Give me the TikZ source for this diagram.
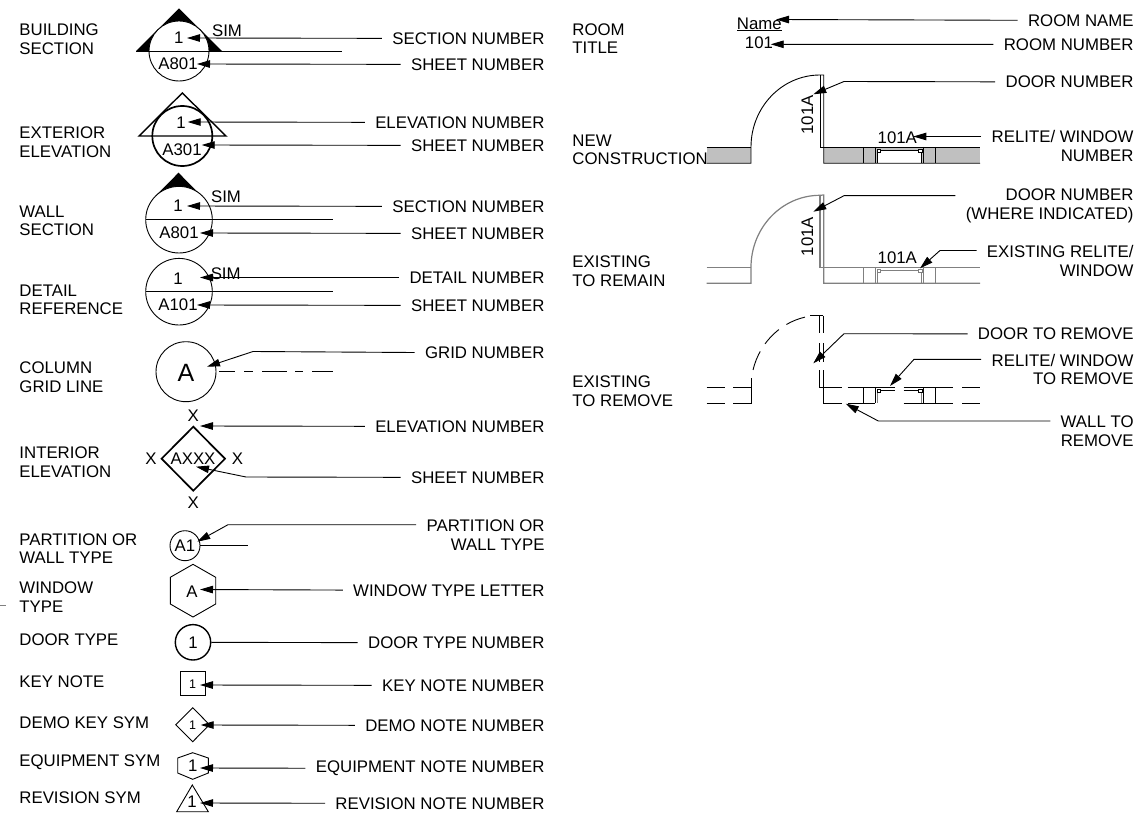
\documentclass[tikz,border=0pt]{standalone}
\usepackage{fontspec}
\setmainfont{Liberation Sans}
\usetikzlibrary{arrows.meta}
\definecolor{wallfill}{HTML}{C0C0C0}
\definecolor{wallgray}{HTML}{808080}
\begin{document}
\begin{tikzpicture}[x=1pt,y=-1pt,
        line width=0.9pt,
        every node/.style={inner sep=0pt,font=\fontsize{16.8}{18.6}\selectfont},
        txtleft/.style={anchor=west,align=left},
        txtright/.style={anchor=east,align=right,inner xsep=10pt},
        small/.style={font=\fontsize{12.5}{14}\selectfont},
        leader/.style={-{Triangle[length=13pt,width=7.5pt]},line width=0.9pt},
        heavy/.style={line width=1.7pt}
    ]
    \useasboundingbox [fill=white] ( 0, 0 ) rectangle ( 1137, 813 );

    % left titles
    \node [txtleft] (bsTitle) at ( 19, 39 ) {BUILDING\\SECTION};
    \node [txtleft] (exTitle) at ( 19, 142 ) {EXTERIOR\\ELEVATION};
    \node [txtleft] (wsTitle) at ( 19, 221 ) {WALL\\SECTION};
    \node [txtleft] (drTitle) at ( 19, 300 ) {DETAIL\\REFERENCE};
    \node [txtleft] (cgTitle) at ( 19, 377.5 ) {COLUMN\\GRID LINE};
    \node [txtleft] (ieTitle) at ( 19, 462.5 ) {INTERIOR\\ELEVATION};
    \node [txtleft] (ptTitle) at ( 19, 548.5 ) {PARTITION OR\\WALL TYPE};
    \node [txtleft] (wtTitle) at ( 19, 597 ) {WINDOW\\TYPE};
    \node [txtleft] (dtTitle) at ( 19, 639.5 ) {DOOR TYPE};
    \node [txtleft] (knTitle) at ( 19, 681.5 ) {KEY NOTE};
    \node [txtleft] (dkTitle) at ( 19, 722.5 ) {DEMO KEY SYM};
    \node [txtleft] (eqTitle) at ( 19, 762.5 ) {EQUIPMENT SYM};
    \node [txtleft] (rvTitle) at ( 19, 797.5 ) {REVISION SYM};
    \draw [wallgray] ( 0, 605 ) -- ( 6, 605 );

    % left labels
    \node [txtright] (bsNum) at ( 555, 38.5 ) {SECTION NUMBER};
    \node [txtright] (bsSheet) at ( 555, 64.5 ) {SHEET NUMBER};
    \node [txtright] (exNum) at ( 555, 122.5 ) {ELEVATION NUMBER};
    \node [txtright] (exSheet) at ( 555, 145.5 ) {SHEET NUMBER};
    \node [txtright] (wsNum) at ( 555, 206.5 ) {SECTION NUMBER};
    \node [txtright] (wsSheet) at ( 555, 233.5 ) {SHEET NUMBER};
    \node [txtright] (drNum) at ( 555, 277.5 ) {DETAIL NUMBER};
    \node [txtright] (drSheet) at ( 555, 305.5 ) {SHEET NUMBER};
    \node [txtright] (cgNum) at ( 555, 352.5 ) {GRID NUMBER};
    \node [txtright] (ieNum) at ( 555, 426.5 ) {ELEVATION NUMBER};
    \node [txtright] (ieSheet) at ( 555, 477.5 ) {SHEET NUMBER};
    \node [txtright] (ptNum) at ( 555, 535 ) {PARTITION OR\\WALL TYPE};
    \node [txtright] (wtNum) at ( 555, 590.5 ) {WINDOW TYPE LETTER};
    \node [txtright] (dtNum) at ( 555, 642.8 ) {DOOR TYPE NUMBER};
    \node [txtright] (knNum) at ( 555, 685.5 ) {KEY NOTE NUMBER};
    \node [txtright] (dkNum) at ( 555, 725.5 ) {DEMO NOTE NUMBER};
    \node [txtright] (eqNum) at ( 555, 768.5 ) {EQUIPMENT NOTE NUMBER};
    \node [txtright] (rvNum) at ( 555, 803.5 ) {REVISION NOTE NUMBER};

    % building section
    \fill ( 179, 8.5 ) -- ( 222, 51 ) -- ( 136, 51 ) -- cycle;
    \draw [fill=white] ( 179, 51 ) circle [ radius = 30 ];
    \draw ( 136, 51 ) -- ( 342, 51 );
    \node (bsOne) at ( 178.7, 38 ) {1};
    \node (bsSim) at ( 227, 31 ) {SIM};
    \node (bsSht) at ( 178, 63.5 ) {A801};
    \coordinate (bsTip) at ( 187, 38 );
    \coordinate (bsShtTip) at ( 197, 64 );
    \draw [leader] (bsNum) -- (bsTip);
    \draw [leader] (bsSheet) -- (bsShtTip);

    % exterior elevation
    \draw [line width=1.4pt] ( 182.3, 93 ) -- ( 226, 136 ) -- ( 139, 136 ) -- cycle;
    \draw [heavy] ( 182.3, 136 ) circle [ radius = 30 ];
    \node (exOne) at ( 181, 122.5 ) {1};
    \node (exSht) at ( 182, 150 ) {A301};
    \coordinate (exTip) at ( 187.7, 122 );
    \coordinate (exShtTip) at ( 201.7, 145 );
    \draw [leader] (exNum) -- (exTip);
    \draw [leader] (exSheet) -- (exShtTip);

    % wall section
    \fill ( 178.5, 172.7 ) -- ( 202, 196.5 ) -- ( 179, 219.7 ) -- ( 155, 196.5 ) -- cycle;
    \draw [fill=white] ( 179, 219.7 ) circle [ radius = 33.3 ];
    \draw ( 145.7, 219.7 ) -- ( 333, 219.7 );
    \node (wsOne) at ( 178, 206 ) {1};
    \node (wsSim) at ( 226, 197 ) {SIM};
    \node (wsSht) at ( 179, 232.5 ) {A801};
    \coordinate (wsTip) at ( 187, 206 );
    \coordinate (wsShtTip) at ( 200, 233 );
    \draw [leader] (wsNum) -- (wsTip);
    \draw [leader] (wsSheet) -- (wsShtTip);

    % detail reference
    \draw ( 179, 291.7 ) circle [ radius = 33.3 ];
    \draw ( 145.7, 291.7 ) -- ( 333, 291.7 );
    \node (drOne) at ( 178, 279 ) {1};
    \node (drSim) at ( 225.7, 274 ) {SIM};
    \node (drSht) at ( 178, 305 ) {A101};
    \coordinate (drTip) at ( 200, 277.5 );
    \coordinate (drShtTip) at ( 197, 305 );
    \draw [leader] (drNum) -- (drTip);
    \draw [leader] (drSheet) -- (drShtTip);

    % column grid line
    \draw ( 186, 371.7 ) circle [ radius = 30 ];
    \draw [dash pattern=on 16pt off 9pt on 9pt off 9pt on 25pt off 8pt on 8pt off 9pt on 22pt] ( 219, 371.7 ) -- ( 333, 371.7 );
    \node [font=\fontsize{25}{28}\selectfont] (cgSym) at ( 186, 373 ) {A};
    \coordinate (cgBend) at ( 253, 351.5 );
    \coordinate (cgTip) at ( 207, 366.7 );
    \draw [leader] (cgNum.west) -- (cgBend) -- (cgTip);

    % interior elevation
    \draw [heavy] ( 193.3, 426.7 ) -- ( 225, 458.7 ) -- ( 193.3, 490.7 ) -- ( 161.6, 458.7 ) -- cycle;
    \node (ieTop) at ( 193.3, 416 ) {X};
    \node (ieBot) at ( 193.3, 503 ) {X};
    \node (ieLeft) at ( 151, 459 ) {X};
    \node (ieRight) at ( 237.5, 459 ) {X};
    \node (ieSym) at ( 193, 459 ) {AXXX};
    \coordinate (ieTip) at ( 200, 426 );
    \coordinate (ieBend) at ( 246, 477 );
    \coordinate (ieShtTip) at ( 196, 466.7 );
    \draw [leader] (ieNum) -- (ieTip);
    \draw [leader] (ieSheet) -- (ieBend) -- (ieShtTip);

    % partition type
    \node [draw,circle,minimum size=30pt] (ptSym) at ( 185, 545.7 ) {A1};
    \coordinate (ptEnd) at ( 248, 545.7 );
    \draw (ptSym) -- (ptEnd);
    \coordinate (ptBend) at ( 228, 524.7 );
    \coordinate (ptTip) at ( 197.3, 541.7 );
    \draw [leader] (ptNum.west |- ptBend) -- (ptBend) -- (ptTip);

    % window type
    \draw ( 193, 564.3 ) -- ( 215.7, 577.3 ) -- ( 215.7, 604 ) -- ( 193, 617 ) -- ( 170.3, 604 ) -- ( 170.3, 577.3 ) -- cycle;
    \node (wtSym) at ( 192, 592 ) {A};
    \coordinate (wtTip) at ( 200, 589.5 );
    \draw [leader] (wtNum) -- (wtTip);

    % door type
    \node [draw,circle,line width=1.4pt,minimum size=35.4pt] (dtSym) at ( 193, 642.3 ) {1};
    \draw (dtSym) -- (dtNum);

    % key note
    \draw ( 180.7, 671.7 ) rectangle ( 205, 695.7 );
    \node [small] (knSym) at ( 192.7, 684 ) {1};
    \coordinate (knTip) at ( 200, 685 );
    \draw [leader] (knNum) -- (knTip);

    % demo key
    \draw ( 192.7, 707.7 ) -- ( 209.5, 724.7 ) -- ( 192.7, 741.7 ) -- ( 175.7, 724.7 ) -- cycle;
    \node [small] (dkSym) at ( 192.7, 725 ) {1};
    \coordinate (dkTip) at ( 200.7, 725 );
    \draw [leader] (dkNum) -- (dkTip);

    % equipment
    \draw ( 192.7, 752.7 ) -- ( 208.3, 758 ) -- ( 208.3, 773 ) -- ( 192.7, 779.3 ) -- ( 177.7, 773 ) -- ( 177.7, 758 ) -- cycle;
    \node (eqSym) at ( 192.7, 766 ) {1};
    \coordinate (eqTip) at ( 200, 768 );
    \draw [leader] (eqNum) -- (eqTip);

    % revision
    \draw ( 192.3, 785 ) -- ( 208.3, 811.7 ) -- ( 176.7, 811.7 ) -- cycle;
    \node (rvSym) at ( 192, 802 ) {1};
    \coordinate (rvTip) at ( 200, 803 );
    \draw [leader] (rvNum) -- (rvTip);

    % right titles
    \node [txtleft] (rmTitle) at ( 572, 38.5 ) {ROOM\\TITLE};
    \node [txtleft] (ncTitle) at ( 572, 150 ) {NEW\\CONSTRUCTION};
    \node [txtleft] (erTitle) at ( 572, 271 ) {EXISTING\\TO REMAIN};
    \node [txtleft] (emTitle) at ( 572, 391 ) {EXISTING\\TO REMOVE};

    % right labels
    \node [txtright] (rmName) at ( 1144, 20.5 ) {ROOM NAME};
    \node [txtright] (rmNum) at ( 1144, 44.5 ) {ROOM NUMBER};
    \node [txtright] (ncDoor) at ( 1144, 82 ) {DOOR NUMBER};
    \node [txtright] (ncWin) at ( 1144, 146 ) {RELITE/ WINDOW\\NUMBER};
    \node [txtright] (erDoor) at ( 1144, 206 ) {DOOR NUMBER\\(WHERE INDICATED)};
    \node [txtright] (erWin) at ( 1144, 261 ) {EXISTING RELITE/\\WINDOW};
    \node [txtright] (emDoor) at ( 1144, 334 ) {DOOR TO REMOVE};
    \node [txtright] (emWin) at ( 1144, 369.5 ) {RELITE/ WINDOW\\TO REMOVE};
    \node [txtright] (emWall) at ( 1144, 431 ) {WALL TO\\REMOVE};

    % room title
    \node (rmNm) at ( 759.3, 23.5 ) {Name};
    \draw [line width=1.3pt] ( 737.3, 30.7 ) -- ( 781.7, 30.7 );
    \node (rmNo) at ( 759, 42.7 ) {101};
    \coordinate (rmNmTip) at ( 776, 19.5 );
    \coordinate (rmNoTip) at ( 770.7, 44.3 );
    \draw [leader] (rmName) -- (rmNmTip);
    \draw [leader] (rmNum) -- (rmNoTip);

    % new construction
    \fill [wallfill] ( 706.7, 147 ) rectangle ( 751, 163.3 );
    \fill [wallfill] ( 823.7, 147 ) rectangle ( 980, 163.3 );
    \fill [white] ( 876.7, 150 ) rectangle ( 922, 163.3 );
    \draw ( 706.7, 147 ) -- ( 751, 147 );
    \draw ( 706.7, 163.3 ) -- ( 751, 163.3 ) -- ( 751, 147 ) arc [ start angle = 180, end angle = 270, x radius = 69, y radius = 72 ] -- ( 823.7, 75 ) -- ( 823.7, 163.3 ) -- ( 980, 163.3 );
    \draw ( 820, 75 ) -- ( 820, 147 ) -- ( 980, 147 );
    \foreach \wx in {863.3,875.3,923.3,935.7} {
        \draw ( \wx, 147 ) -- ( \wx, 163.3 );
    }
    \draw ( 877.3, 150 ) -- ( 877.3, 163.3 );
    \draw ( 921.7, 150 ) -- ( 921.7, 163.3 );
    \draw ( 880.5, 150 ) -- ( 918.3, 150 );
    \draw [fill=white,line width=0.6pt] ( 877, 149 ) rectangle ( 880.5, 152.5 );
    \draw [fill=white,line width=0.6pt] ( 918.3, 149 ) rectangle ( 921.8, 152.5 );
    \node [rotate=90] (ncDrNo) at ( 807.3, 115 ) {101A};
    \node (ncWnNo) at ( 897.3, 137.3 ) {101A};
    \coordinate (ncDrBend) at ( 844, 81.5 );
    \coordinate (ncDrTip) at ( 813.3, 94.3 );
    \coordinate (ncWnTip) at ( 913.3, 136.5 );
    \draw [leader] (ncDoor) -- (ncDrBend) -- (ncDrTip);
    \draw [leader] (ncWin.west |- ncWnTip) -- (ncWnTip);

    % existing to remain
    \begin{scope} [wallgray,line width=1.2pt]
        \draw ( 706.7, 267.3 ) -- ( 751, 267.3 );
        \draw ( 706.7, 283.3 ) -- ( 751, 283.3 ) -- ( 751, 267.3 ) arc [ start angle = 180, end angle = 270, x radius = 69, y radius = 72 ] -- ( 823.7, 195 ) -- ( 823.7, 283.3 ) -- ( 980, 283.3 );
        \draw ( 820, 195 ) -- ( 820, 267.3 ) -- ( 980, 267.3 );
        \foreach \wx in {863.3,875.3,923.3,935.7} {
            \draw ( \wx, 267.3 ) -- ( \wx, 283.3 );
        }
        \draw ( 877.3, 270.5 ) -- ( 877.3, 283.3 );
        \draw ( 921.7, 270.5 ) -- ( 921.7, 283.3 );
        \draw ( 880.5, 270.5 ) -- ( 918.3, 270.5 );
        \draw [fill=white,line width=0.6pt] ( 877, 269 ) rectangle ( 880.5, 272.5 );
        \draw [fill=white,line width=0.6pt] ( 918.3, 269 ) rectangle ( 921.8, 272.5 );
    \end{scope}
    \node [rotate=90] (erDrNo) at ( 807.3, 236.7 ) {101A};
    \node (erWnNo) at ( 897.3, 257.7 ) {101A};
    \coordinate (erDrBend) at ( 844, 195.7 );
    \coordinate (erDrTip) at ( 813.3, 211.7 );
    \coordinate (erWnBend) at ( 940, 250.5 );
    \coordinate (erWnTip) at ( 920, 268.3 );
    \draw [leader] (erDoor.west |- erDrBend) -- (erDrBend) -- (erDrTip);
    \draw [leader] (erWin.west |- erWnBend) -- (erWnBend) -- (erWnTip);

    % existing to remove
    \draw [dash pattern=on 20pt off 9pt] ( 753, 370 ) arc [ start angle = 194, end angle = 262, x radius = 69, y radius = 72 ];
    \draw ( 810, 315.7 ) -- ( 823.3, 315.7 );
    \foreach \wx in {819.3,823.3} {
        \draw ( \wx, 315.7 ) -- ( \wx, 332.7 );
        \draw ( \wx, 343 ) -- ( \wx, 362 );
        \draw ( \wx, 370 ) -- ( \wx, 387.3 );
    }
    \draw ( 706.7, 387.3 ) -- ( 725, 387.3 );
    \draw ( 733, 387.3 ) -- ( 751, 387.3 );
    \draw ( 706.7, 403.3 ) -- ( 725, 403.3 );
    \draw ( 733, 403.3 ) -- ( 751, 403.3 ) -- ( 751, 378 );
    \draw ( 819.3, 387.3 ) -- ( 841.7, 387.3 );
    \draw ( 847.7, 387.3 ) -- ( 895, 387.3 );
    \draw ( 903.7, 387.3 ) -- ( 953.3, 387.3 );
    \draw ( 962.3, 387.3 ) -- ( 980, 387.3 );
    \draw ( 823.3, 387.3 ) -- ( 823.3, 403.3 ) -- ( 841.7, 403.3 );
    \draw ( 847.7, 403.3 ) -- ( 875, 403.3 );
    \draw ( 903.7, 403.3 ) -- ( 953.3, 403.3 );
    \draw ( 962.3, 403.3 ) -- ( 980, 403.3 );
    \foreach \wx in {863.3,875,923.3,935.7} {
        \draw ( \wx, 387.3 ) -- ( \wx, 403.3 );
    }
    \draw [wallgray] ( 877.3, 390.5 ) -- ( 877.3, 403.3 );
    \draw [wallgray] ( 921, 390.5 ) -- ( 921, 403.3 );
    \draw ( 880, 390.3 ) -- ( 895, 390.3 );
    \draw ( 903.7, 390.3 ) -- ( 919, 390.3 );
    \draw [fill=white,line width=0.6pt] ( 877, 389 ) rectangle ( 880.5, 392.5 );
    \draw [fill=white,line width=0.6pt] ( 918.6, 389 ) rectangle ( 922.1, 392.5 );
    \coordinate (emDrBend) at ( 844, 333.7 );
    \coordinate (emDrTip) at ( 813.3, 363.3 );
    \coordinate (emWnBend) at ( 914, 359.3 );
    \coordinate (emWnTip) at ( 890, 386 );
    \coordinate (emWlBend) at ( 878.3, 421 );
    \coordinate (emWlTip) at ( 845.7, 403.7 );
    \draw [leader] (emDoor) -- (emDrBend) -- (emDrTip);
    \draw [leader] (emWin.west |- emWnBend) -- (emWnBend) -- (emWnTip);
    \draw [leader] (emWall.west |- emWlBend) -- (emWlBend) -- (emWlTip);
\end{tikzpicture}
\end{document}
